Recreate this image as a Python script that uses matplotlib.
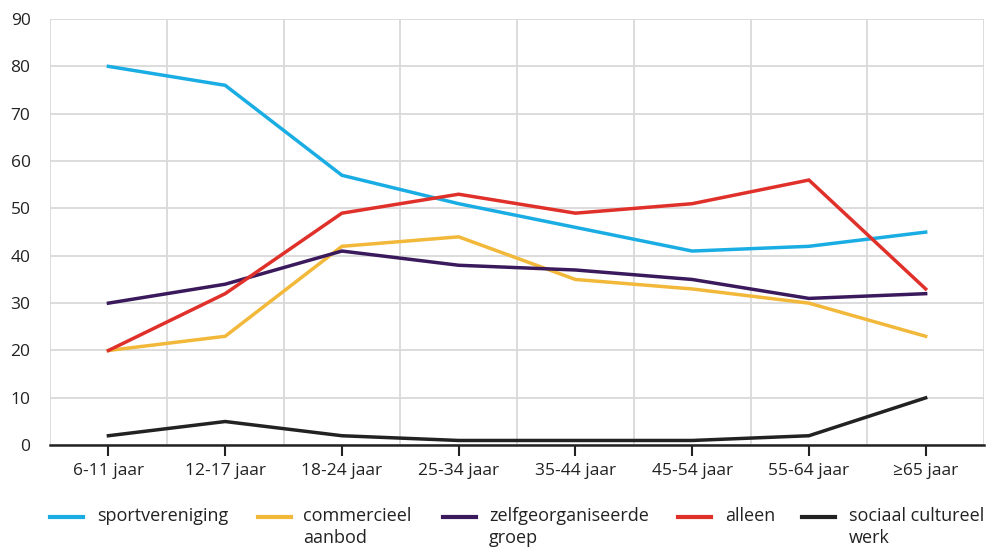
import numpy as np
import matplotlib
matplotlib.use("Agg")
import matplotlib.pyplot as plt
from matplotlib.lines import Line2D

plt.rcParams['font.family'] = ['Open Sans', 'DejaVu Sans']

# Age groups and share per type of organisation (%)
categories = ['6-11 jaar', '12-17 jaar', '18-24 jaar', '25-34 jaar',
              '35-44 jaar', '45-54 jaar', '55-64 jaar', '\u226565 jaar']

sportvereniging = [80, 76, 57, 51, 46, 41, 42, 45]
commercieel = [20, 23, 42, 44, 35, 33, 30, 23]
zelfgeorganiseerd = [30, 34, 41, 38, 37, 35, 31, 32]
alleen = [20, 32, 49, 53, 49, 51, 56, 33]
sociaal_cultureel = [2, 5, 2, 1, 1, 1, 2, 10]

series_labels = ['sportvereniging', 'commercieel\naanbod', 'zelfgeorganiseerde\ngroep',
                 'alleen', 'sociaal cultureel\nwerk']
colors = ['#1aade4', '#f2b83a', '#3a1a5c', '#e0302a', '#222222']

fig = plt.figure(figsize=(9.87, 5.51), dpi=100)
ax = fig.add_axes([0.0507, 0.192, 0.9463, 0.7735])

x = np.arange(len(categories))
all_series = [sportvereniging, commercieel, zelfgeorganiseerd, alleen, sociaal_cultureel]
for vals, color in zip(all_series, colors):
    ax.plot(x, vals, color=color, lw=2.5, solid_joinstyle='miter', zorder=3)

ax.set_xlim(-0.5, len(categories) - 0.5)
ax.set_ylim(0, 90)
ax.set_yticks(np.arange(0, 91, 10))
ax.set_xticks(x)
ax.set_xticklabels(categories)

# grid: vertical lines between categories, horizontal at every 10
ax.set_xticks(np.arange(-0.5, len(categories), 1), minor=True)
ax.grid(True, which='minor', axis='x', color='#d9d9d9', lw=1.3)
ax.grid(True, which='major', axis='y', color='#d9d9d9', lw=1.3)
ax.tick_params(axis='x', which='minor', length=0)
ax.set_axisbelow(True)

for side in ['top', 'right', 'left']:
    ax.spines[side].set_visible(False)
ax.spines['bottom'].set_color('#222222')
ax.spines['bottom'].set_linewidth(1.8)
ax.spines['bottom'].set_zorder(4)

ax.tick_params(axis='x', which='major', length=8, width=1.5, color='#222222',
               labelsize=12.5, labelcolor='#222222', pad=5)
ax.tick_params(axis='y', length=0, labelsize=12.5, labelcolor='#222222', pad=14)

# legend row beneath the plot
legend_x = [50, 258, 443, 678, 802]
text_x = [97, 303, 489, 725, 849]
y_leg = 1 - 517 / 551
for lx, tx, lab, color in zip(legend_x, text_x, series_labels, colors):
    fig.add_artist(Line2D([lx / 987, (lx + 33) / 987], [y_leg, y_leg],
                          color=color, lw=3, transform=fig.transFigure))
    fig.text(tx / 987, y_leg + 0.019, lab, fontsize=13, color='#222222',
             va='top', ha='left', linespacing=1.35)

fig.savefig('out.png', dpi=100)
